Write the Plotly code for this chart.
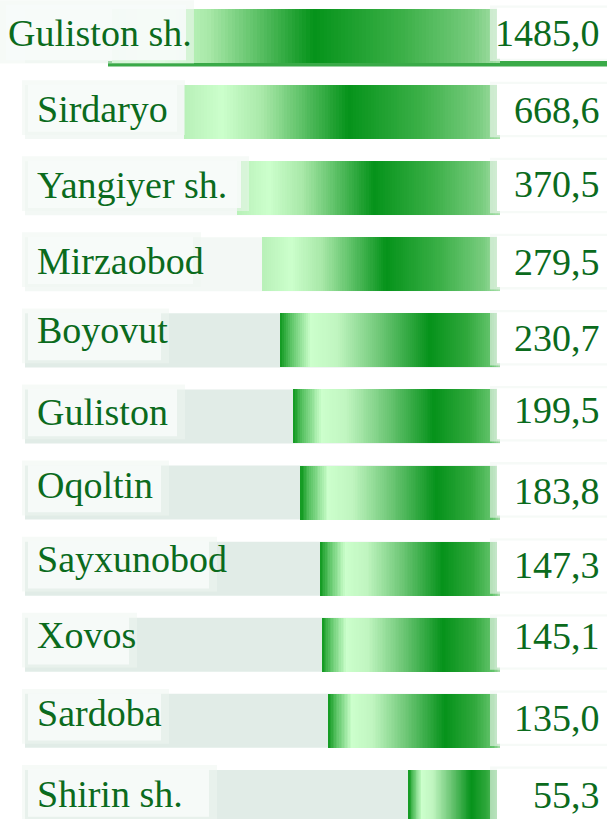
import math
import plotly.graph_objects as go

# ---- data ----
districts = ["Guliston sh.", "Sirdaryo", "Yangiyer sh.", "Mirzaobod", "Boyovut",
             "Guliston", "Oqoltin", "Sayxunobod", "Xovos", "Sardoba", "Shirin sh."]
values = [1485.0, 668.6, 370.5, 279.5, 230.7, 199.5, 183.8, 147.3, 145.1, 135.0, 55.3]
value_labels = [f"{v:.1f}".replace(".", ",") for v in values]

# ---- style ----
W, H = 607, 819
BASE = 20.0            # bar origin on the log axis
PX_PER_DECADE = 207.4
ORIGIN_PX = 500.0
N_SEG = 110
BAR_W = 0.71
TEXT_COLOR = "#0b6b1d"
FONT = "Liberation Serif"
LABEL_YSHIFT = [3, 3, 3, 3, 10, 4, 8, 10, 10, 8, 3]
VALUE_YSHIFT = [3, 2, 4, 2, 2, 6, 2, 4, 9, 3, 2]

# t = 0 at the left (outer) end of a bar, t = 1 at its origin on the right
upper_stops = [(0.0, "#b8f0b8"), (0.12, "#ccffcc"), (0.25, "#a8e8a8"),
               (0.52, "#05931a"), (0.75, "#3cb048"), (0.93, "#78cc7e"), (1.0, "#a8e0aa")]
lower_stops = [(0.0, "#0f981f"), (0.05, "#5cc466"), (0.14, "#ccffcc"), (0.26, "#c0f5c0"),
               (0.45, "#70c878"), (0.68, "#05921a"), (0.85, "#30a83c"), (0.96, "#64c46c"),
               (1.0, "#a8dcaa")]


def hex2rgb(h):
    h = h.lstrip("#")
    return tuple(int(h[i:i + 2], 16) for i in (0, 2, 4))


def grad(stops, t):
    for (t0, c0), (t1, c1) in zip(stops[:-1], stops[1:]):
        if t <= t1:
            f = 0 if t1 == t0 else (t - t0) / (t1 - t0)
            a, b = hex2rgb(c0), hex2rgb(c1)
            return "rgb(%d,%d,%d)" % tuple(round(a[i] + (b[i] - a[i]) * f) for i in range(3))
    return stops[-1][1]


n = len(values)
rows = list(range(n))
fig = go.Figure()

# gradient bars built as many thin segments along each bar (log scale)
for k in range(N_SEG):
    bases, lens, cols = [], [], []
    for i, v in enumerate(values):
        r = v / BASE
        b0 = BASE * r ** (k / N_SEG)
        b1 = BASE * r ** (min(k + 1.6, N_SEG) / N_SEG)
        bases.append(b0)
        lens.append(b1 - b0)
        stops = upper_stops if i < 4 else lower_stops
        cols.append(grad(stops, 1 - (k + 0.5) / N_SEG))
    fig.add_trace(go.Bar(
        y=rows, x=lens, base=bases, orientation="h", width=BAR_W,
        marker=dict(color=cols, line=dict(width=0)), opacity=1,
        hoverinfo="skip", showlegend=False))

shapes = []
annotations = []
for i, (name, lab) in enumerate(zip(districts, value_labels)):
    # background track
    track = "#f3f8f5" if i < 4 else "#e1ece7"
    shapes.append(dict(type="rect", xref="paper", yref="y", layer="below",
                       x0=25 / W, x1=ORIGIN_PX / W, y0=i - BAR_W / 2, y1=i + BAR_W / 2,
                       fillcolor=track, line=dict(width=0)))
    # label box
    tw = len(name) * 16 + 12
    if i == 0:
        bx0, bx1, by0, by1 = 0, 194, -0.47, 0.36
    else:
        bx0, bx1, by0, by1 = 22, 37 + tw + 8, i - 0.42, i + 0.3
    shapes.append(dict(type="rect", xref="paper", yref="y", layer="above",
                       x0=bx0 / W, x1=bx1 / W, y0=by0, y1=by1,
                       fillcolor="#eef5f1", opacity=0.55, line=dict(width=0)))
    shapes.append(dict(type="rect", xref="paper", yref="y", layer="above",
                       x0=(bx0 + 6) / W, x1=(bx1 - 8) / W, y0=by0 + 0.06, y1=by1 - 0.04,
                       fillcolor="#f7fbf9", opacity=0.9, line=dict(width=0)))
    # value box
    shapes.append(dict(type="rect", xref="paper", yref="y", layer="above",
                       x0=490 / W, x1=1, y0=i - 0.4, y1=i + 0.33,
                       fillcolor="#f0f6f2", opacity=0.6, line=dict(width=0)))
    shapes.append(dict(type="rect", xref="paper", yref="y", layer="above",
                       x0=497 / W, x1=1, y0=i - 0.37, y1=i + 0.3,
                       fillcolor="#ffffff", opacity=0.97, line=dict(width=0)))
    annotations.append(dict(xref="paper", yref="y", x=(6 if i == 0 else 35) / W, y=i,
                            yshift=LABEL_YSHIFT[i], text=name, showarrow=False, xanchor="left",
                            font=dict(family=FONT, size=38, color=TEXT_COLOR)))
    annotations.append(dict(xref="paper", yref="y", x=602 / W, y=i,
                            yshift=VALUE_YSHIFT[i], text=lab, showarrow=False, xanchor="right",
                            font=dict(family=FONT, size=38, color=TEXT_COLOR)))

# thin accent strip under the first row
shapes.append(dict(type="rect", xref="paper", yref="y", layer="below",
                   x0=108 / W, x1=1, y0=0.33, y1=0.4,
                   fillcolor="#3aaa48", line=dict(width=0)))

lb = math.log10(BASE)
fig.update_layout(
    width=W, height=H, margin=dict(l=0, r=0, t=0, b=0),
    paper_bgcolor="white", plot_bgcolor="white",
    barmode="overlay", bargap=0, showlegend=False,
    xaxis=dict(type="log", range=[lb + ORIGIN_PX / PX_PER_DECADE,
                                  lb - (W - ORIGIN_PX) / PX_PER_DECADE],
               visible=False, fixedrange=True),
    yaxis=dict(range=[10.29, -0.473], visible=False, fixedrange=True),
    shapes=shapes, annotations=annotations,
)

fig.write_html("out.html", config={"displayModeBar": False},
               post_script="document.body.style.margin='0';document.body.style.overflow='hidden';")
